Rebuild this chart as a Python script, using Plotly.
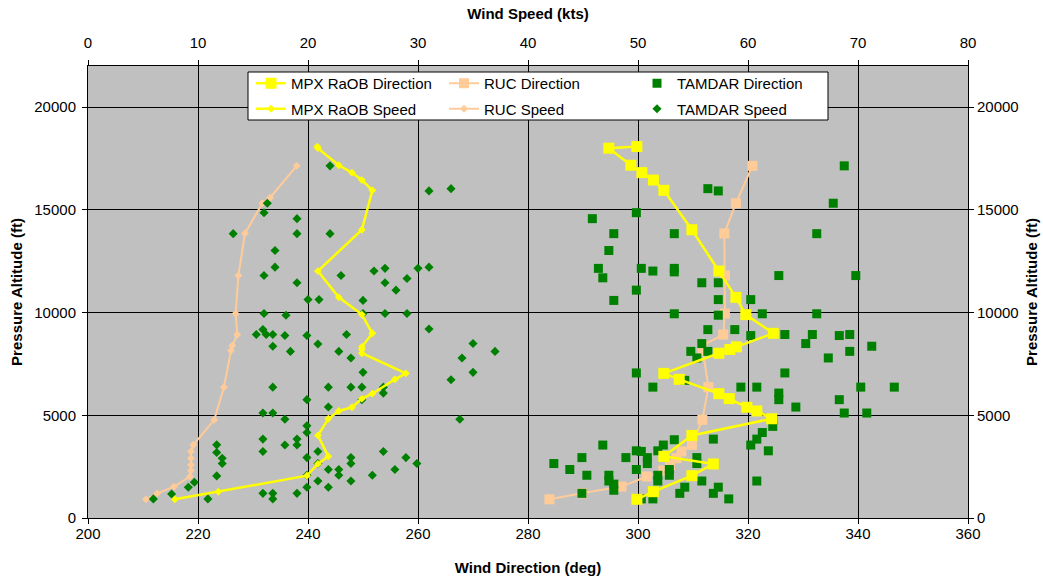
import plotly.graph_objects as go

# ---------------- data ----------------
# MPX RaOB sounding (altitude ft, direction deg, speed kts)
mpx_alt = [18080, 18000, 17170, 16810, 16450, 15950, 14030, 12020, 10740, 9900, 8990, 8330, 8200, 8020,
           7040, 6750, 6050, 5810, 5390, 5210, 4830, 4020, 3000, 2630, 2060, 1280, 910]
mpx_dir = [299.8, 294.7, 298.7, 300.7, 302.8, 304.7, 309.8, 314.7, 317.8, 319.6, 324.6, 317.9, 316.7, 314.7,
           304.7, 307.5, 314.7, 316.6, 319.8, 321.6, 324.3, 309.8, 304.7, 313.7, 309.8, 302.8, 299.8]
mpx_spd = [20.85, 20.9, 22.8, 24.0, 24.9, 25.85, 24.9, 20.9, 22.8, 24.9, 25.85, 24.9, 24.9, 24.9,
           28.9, 27.9, 25.85, 24.9, 24.0, 22.8, 21.85, 20.9, 21.85, 20.9, 19.9, 11.85, 7.9]

# RUC model profile
ruc_dir_alt = [17140, 15320, 13850, 11800, 9950, 8930, 8390, 8150, 6370, 4780, 3560, 3240, 2910,
               2590, 2310, 2020, 1530, 1200, 910]
ruc_dir = [320.8, 317.8, 315.7, 315.8, 315.8, 315.5, 311.7, 311.8, 312.8, 311.7, 309.8, 307.9, 307.0,
           305.8, 304.6, 301.6, 297.0, 289.8, 283.9]
ruc_spd_alt = [17140, 15590, 15320, 13850, 11800, 9950, 8930, 8390, 8150, 6370, 4780, 3560, 3240, 2910,
               2590, 2310, 2020, 1530, 1200, 910]
ruc_spd = [18.97, 16.55, 15.85, 14.27, 13.67, 13.42, 13.57, 13.12, 13.0, 12.36, 11.48, 9.58, 9.36, 9.36,
           9.36, 9.36, 9.27, 7.82, 6.3, 5.27]

# TAMDAR observations: direction
tam_dir = [337.5, 312.7, 314.6, 335.5, 291.7, 299.7, 295.6, 306.6, 332.5, 294.7, 292.8, 293.6, 300.6, 302.7,
           306.6, 306.6, 311.6, 314.6, 299.7, 295.6, 325.6, 339.6, 314.6, 320.5, 306.6, 314.6, 319.6, 322.6,
           332.5, 312.7, 317.6, 320.5, 326.7, 331.7, 336.6, 338.5, 311.6, 309.6, 312.7, 310.7, 330.5, 338.5,
           342.5, 334.6, 299.7, 326.7, 302.7, 308.5, 318.7, 321.6, 325.6, 325.6, 328.7, 336.6, 337.5, 341.6,
           340.5, 346.6, 324.5, 324.5, 322.6, 321.6, 320.5, 323.7, 313.7, 306.6, 304.6, 303.6, 293.6, 299.7,
           300.6, 297.8, 301.7, 301.7, 310.7, 310.7, 289.8, 284.7, 287.6, 299.7, 290.7, 294.7, 294.7, 303.6,
           303.6, 305.7, 305.7, 311.6, 321.6, 295.6, 295.6, 308.5, 307.6, 314.6, 313.7, 289.8, 300.6, 302.7,
           316.5]
tam_dir_alt = [17140, 16030, 15920, 15320, 14570, 14860, 13840, 13840, 13840, 13020, 12150, 11690, 12150, 12020,
               12150, 11980, 11450, 11450, 11090, 10590, 11800, 11800, 10630, 10630, 9940, 9870, 9940, 9940,
               9940, 9170, 9170, 8880, 8930, 8930, 8880, 8930, 8490, 8110, 8110, 7790, 8490, 8110,
               8360, 7790, 7060, 7060, 6370, 6700, 6370, 6370, 6080, 5760, 5400, 5760, 5110, 5110,
               6370, 6370, 4780, 4460, 4160, 3840, 3550, 3270, 3840, 3810, 3550, 3270, 3550, 3270,
               3240, 2940, 2940, 2650, 2940, 2650, 2940, 2650, 2360, 2360, 2080, 2080, 1800, 2080,
               1800, 2360, 2080, 1800, 1800, 1650, 1350, 1500, 1200, 1500, 1200, 1200, 930, 930,
               930]

# TAMDAR observations: speed
tam_spd = [22, 31, 33, 16.3, 16, 19, 13.2, 19, 22, 17, 17, 16, 19, 23, 26, 27, 30, 31, 27, 29, 28,
           20, 21, 25, 16, 18, 25, 27, 29, 31, 15.9, 15.3, 16.2, 16.8, 17.9, 19.9, 23.5, 16.8, 20.9,
           18.4, 22.8, 23.9, 35, 37, 34, 35, 33, 25, 16.8, 21.85, 23.9, 24.9, 26.85, 26.85, 24.9, 19.9,
           21.85, 15.9, 16.8, 17.9, 33.8, 19.9, 19.9, 15.9, 19, 19, 17.9, 11.7, 11.7, 15.9, 12.2, 12.2,
           19.9, 20.9, 20.9, 26.85, 28.9, 29.9, 23.9, 23.9, 21.85, 22.8, 22.8, 27.9, 25.85, 11.7, 19.9,
           20.9, 23.9, 9.67, 9.12, 19.9, 21.85, 7.6, 15.9, 16.8, 19, 5.94, 10.9, 16.8]
tam_spd_alt = [17140, 15920, 16030, 15320, 14860, 14570, 13840, 13840, 13840, 13020, 12210, 11800, 11450, 11800,
               12020, 12150, 12150, 12210, 11450, 11660, 11090, 10630, 10630, 10590, 9950, 9870, 9950, 9950,
               9950, 9200, 9170, 8930, 8930, 8930, 8880, 8880, 8930, 8360, 8470, 8110, 8110, 7790, 8490,
               8110, 7790, 7090, 6730, 7090, 6370, 6370, 6370, 6370, 6370, 6080, 5760, 5760, 5400, 5110,
               5110, 4810, 4810, 4490, 4160, 3840, 3840, 3550, 3550, 3560, 3190, 3240, 2910, 2650, 2940,
               3240, 2650, 3240, 2940, 2650, 2940, 2650, 2360, 2360, 2080, 2360, 2080, 2050, 2080, 1800,
               1800, 1740, 1500, 1500, 1500, 1170, 1200, 1200, 1200, 930, 930, 930]

dir_ticks = [200, 220, 240, 260, 280, 300, 320, 340, 360]
spd_ticks = [0, 10, 20, 30, 40, 50, 60, 70, 80]
alt_ticks = [0, 5000, 10000, 15000, 20000]
alt_labels = ["0", "5000", "10000", "15000", "20000"]

# ---------------- styles ----------------
YEL = "#FFFF00"
PEACH = "#FFCC99"
GRN = "#008000"
BG = "#C0C0C0"
FONT = "Arial, Liberation Sans, sans-serif"

fig = go.Figure()

# RUC
fig.add_trace(go.Scatter(x=ruc_dir, y=ruc_dir_alt, xaxis="x", yaxis="y", mode="lines+markers",
                         name="RUC Direction", legend="legend2", legendgroup="a", legendrank=1,
                         line=dict(color=PEACH, width=2),
                         marker=dict(symbol="square", size=10, color=PEACH, line=dict(width=0))))
fig.add_trace(go.Scatter(x=ruc_spd, y=ruc_spd_alt, xaxis="x2", yaxis="y", mode="lines+markers",
                         name="RUC Speed", legend="legend2", legendgroup="b", legendrank=2,
                         line=dict(color=PEACH, width=2),
                         marker=dict(symbol="diamond", size=6, color=PEACH, line=dict(width=0))))
# TAMDAR
fig.add_trace(go.Scatter(x=tam_dir, y=tam_dir_alt, xaxis="x", yaxis="y", mode="markers",
                         name="TAMDAR Direction", legend="legend3", legendgroup="a", legendrank=1,
                         marker=dict(symbol="square", size=9, color=GRN, line=dict(width=0))))
fig.add_trace(go.Scatter(x=tam_spd, y=tam_spd_alt, xaxis="x2", yaxis="y", mode="markers",
                         name="TAMDAR Speed", legend="legend3", legendgroup="b", legendrank=2,
                         marker=dict(symbol="diamond", size=7, color=GRN, line=dict(width=0))))
# MPX RaOB
fig.add_trace(go.Scatter(x=mpx_dir, y=mpx_alt, xaxis="x", yaxis="y", mode="lines+markers",
                         name="MPX RaOB Direction", legend="legend", legendgroup="a", legendrank=1,
                         line=dict(color=YEL, width=2.5),
                         marker=dict(symbol="square", size=11, color=YEL, line=dict(width=0))))
fig.add_trace(go.Scatter(x=mpx_spd, y=mpx_alt, xaxis="x2", yaxis="y", mode="lines+markers",
                         name="MPX RaOB Speed", legend="legend", legendgroup="b", legendrank=2,
                         line=dict(color=YEL, width=2.5),
                         marker=dict(symbol="diamond", size=6, color=YEL, line=dict(width=0))))
# invisible trace to carry the right-hand altitude axis
fig.add_trace(go.Scatter(x=[None], y=[None], xaxis="x", yaxis="y2", mode="markers",
                         showlegend=False, hoverinfo="skip"))

tickfont = dict(family=FONT, size=15, color="#000000")
titlefont = dict(family=FONT, size=15, color="#000000", weight="bold")
common = dict(showline=True, linecolor="#000000", linewidth=1, ticks="outside", ticklen=5,
              tickcolor="#000000", tickfont=tickfont, zeroline=False, automargin=False)

LEG_Y = 0.9978


def leg(xpx):
    return dict(orientation="v", x=(xpx - 88) / 880, y=LEG_Y, xanchor="left", yanchor="top",
                bgcolor="rgba(0,0,0,0)", borderwidth=0, tracegroupgap=3, itemwidth=30,
                font=dict(family=FONT, size=15, color="#000000"))


fig.update_layout(
    width=1043, height=581,
    margin=dict(l=88, r=75, t=66, b=63, autoexpand=False),
    paper_bgcolor="#FFFFFF",
    plot_bgcolor=BG,
    showlegend=True,
    legend=leg(251), legend2=leg(444), legend3=leg(637),
    shapes=[dict(type="rect", xref="paper", yref="paper",
                 x0=(248 - 88) / 880, x1=(828 - 88) / 880,
                 y0=(518 - 120) / 452, y1=(518 - 72) / 452,
                 fillcolor="#FFFFFF", line=dict(color="#000000", width=1), layer="above")],
    xaxis=dict(range=[200, 360], tickvals=dir_ticks, showgrid=True, gridcolor="#000000", gridwidth=1,
               title=dict(text="Wind Direction (deg)", font=titlefont, standoff=21), **common),
    xaxis2=dict(range=[0, 80], tickvals=spd_ticks, overlaying="x", side="top", showgrid=False,
                title=dict(text="Wind Speed (kts)", font=titlefont, standoff=10),
                ticklabelstandoff=6, **common),
    yaxis=dict(range=[0, 22000], tickvals=alt_ticks, ticktext=alt_labels, showgrid=True,
               gridcolor="#000000", gridwidth=1, ticklabelstandoff=3,
               title=dict(text="Pressure Altitude (ft)", font=titlefont, standoff=8), **common),
    yaxis2=dict(range=[0, 22000], tickvals=alt_ticks, ticktext=alt_labels, overlaying="y", side="right",
                showgrid=False,
                title=dict(text="Pressure Altitude (ft)", font=titlefont, standoff=8), **common),
)

try:
    fig.layout.xaxis.ticklabelstandoff = -3
except Exception:
    pass

fig.write_html("out.html")
